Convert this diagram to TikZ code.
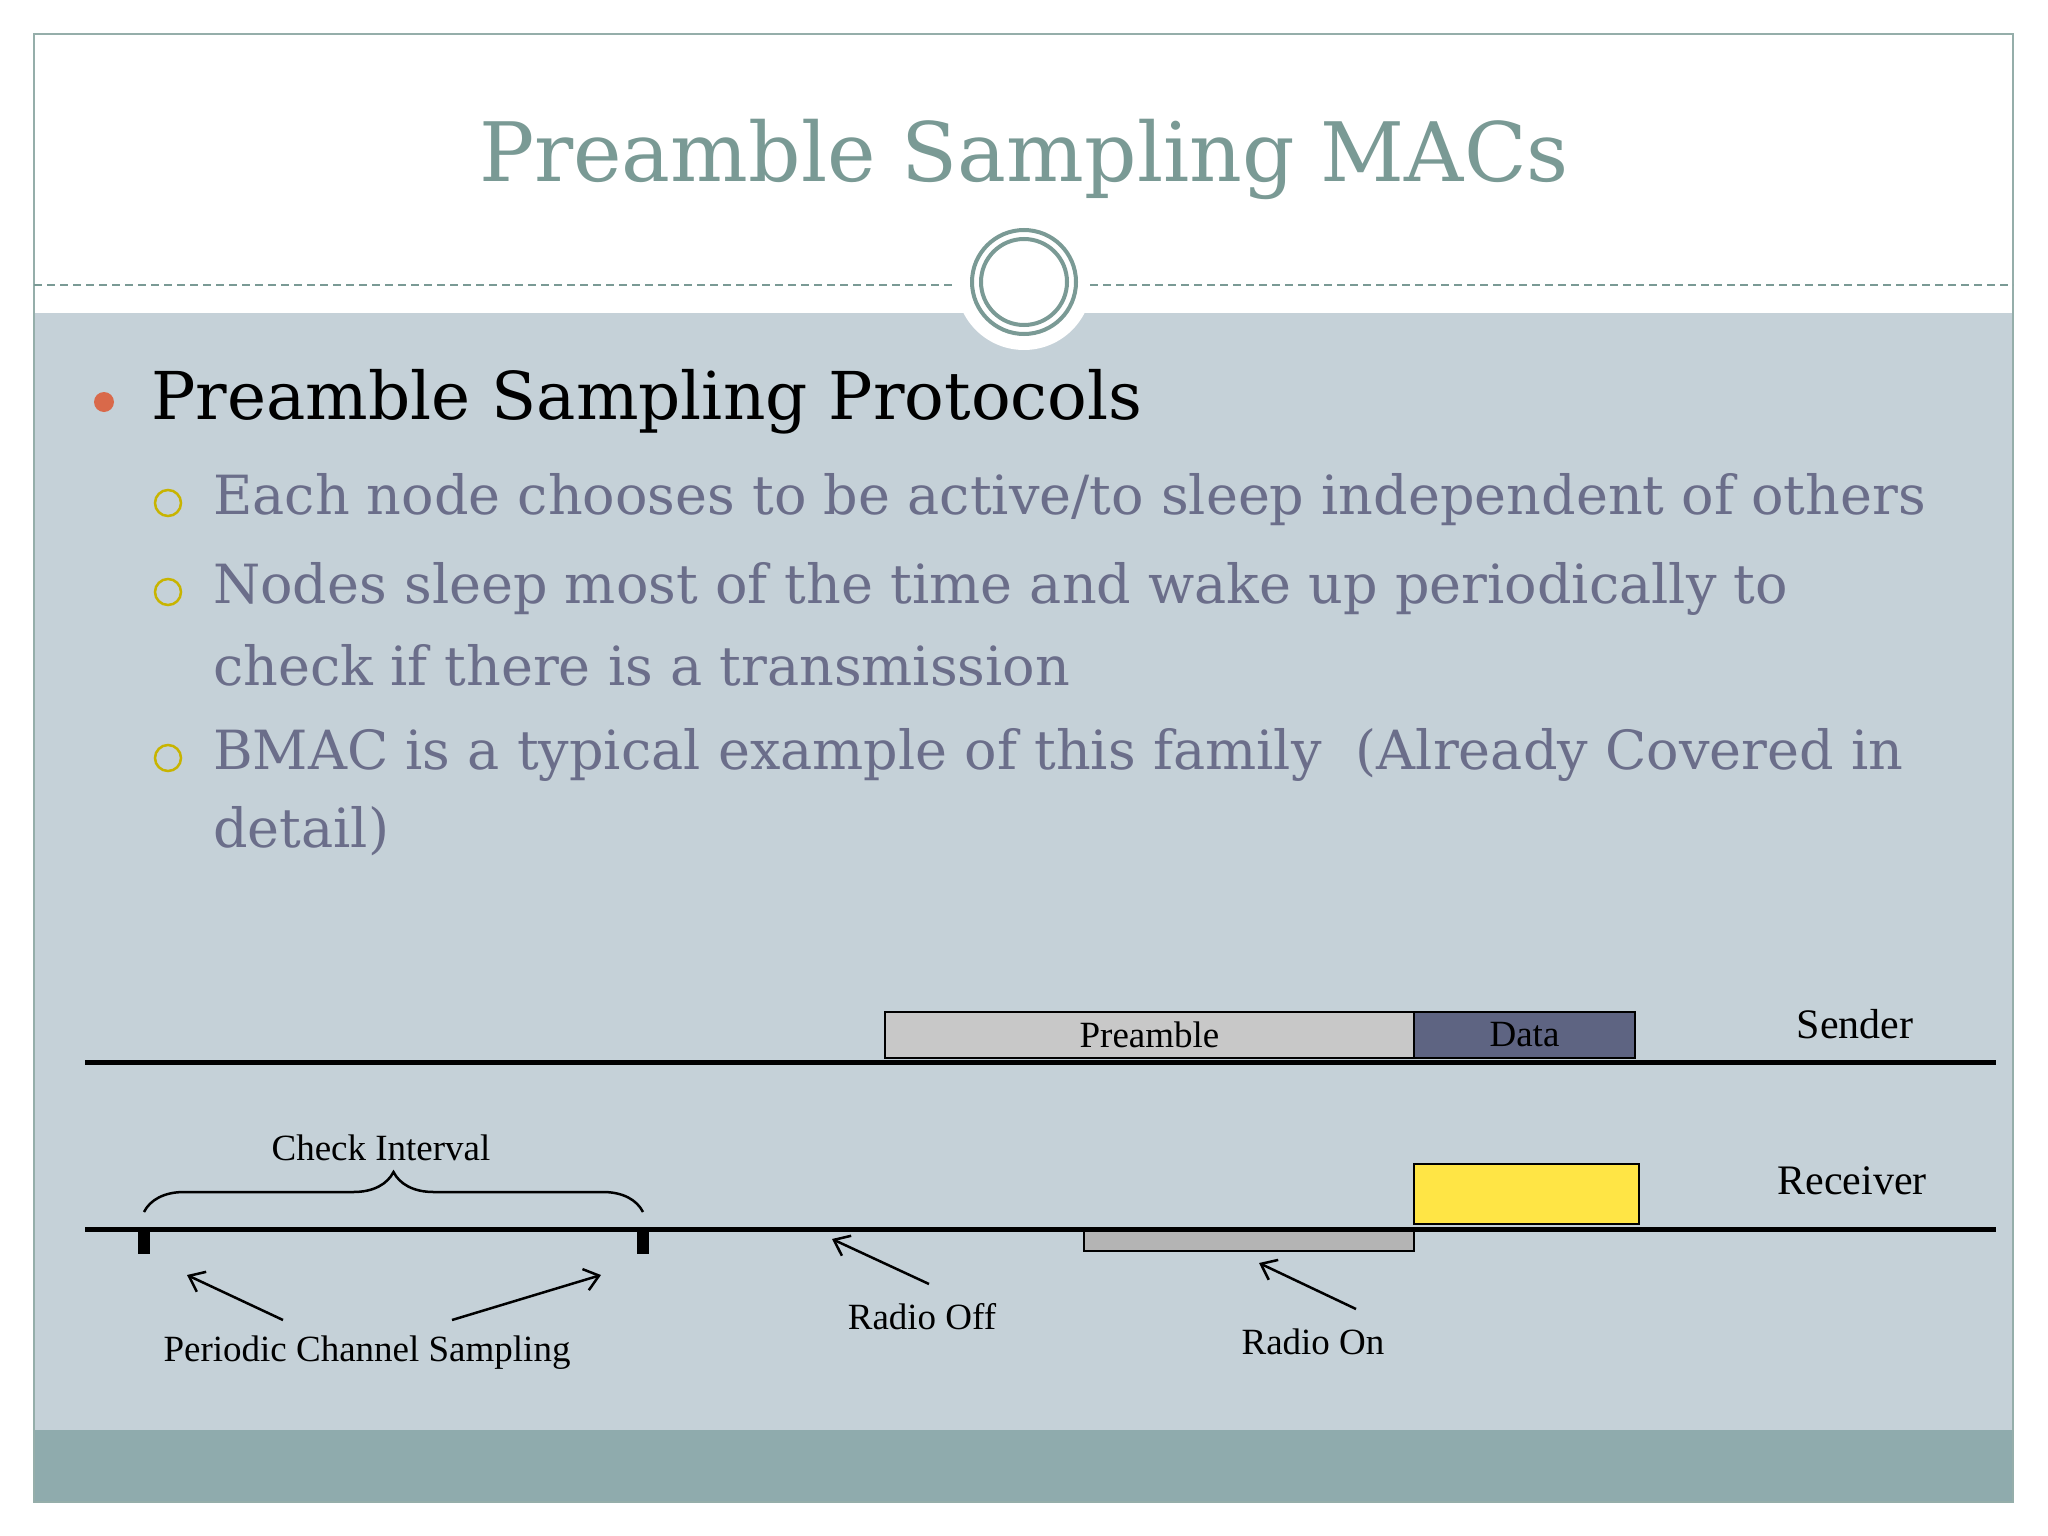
\documentclass[tikz,border=0pt]{standalone}
\usepackage{fontspec}
\setmainfont{DejaVu Serif}
\newfontfamily\lab{Liberation Serif}
\usetikzlibrary{arrows.meta,decorations.pathreplacing}
\definecolor{bg}{HTML}{C5D1D8}
\definecolor{band}{HTML}{8FABAD}
\definecolor{teal}{HTML}{7A9A95}
\definecolor{sub}{HTML}{6B6E8A}
\definecolor{orng}{HTML}{D9694A}
\definecolor{olv}{HTML}{C8B400}
\definecolor{gbox}{HTML}{C8C8C8}
\definecolor{dbox}{HTML}{5E6482}
\definecolor{ylw}{HTML}{FFE545}
\tikzset{
  lbl/.style={font=\lab\fontsize{37}{40}\selectfont,inner sep=0},
  subt/.style={anchor=west,font=\fontsize{54}{58}\selectfont,text=sub,inner sep=0},
  tline/.style={line width=5pt},
  arr/.style={-{Straight Barb[length=14pt,width=22pt]},line width=2.5pt},
  sbul/.style={circle,draw=olv,line width=2.5pt,minimum size=26pt,inner sep=0},
  smark/.style={fill=black,minimum width=12pt,minimum height=24pt,inner sep=0}
}
\begin{document}
\begin{tikzpicture}[x=1pt,y=-1pt]
\useasboundingbox (0,0) rectangle (2048,1536);
\fill[white] (0,0) rectangle (2048,1536);
\fill[bg] (34,313) rectangle (2013,1430);
\fill[band] (34,1430) rectangle (2013,1502);
\draw[teal!80,line width=2pt] (34,34) rectangle (2013,1502);
\fill[white] (1024,282) circle (68);
\draw[teal,dashed,line width=2pt,dash pattern=on 8pt off 5pt] (34,285) -- (953,285);
\draw[teal,dashed,line width=2pt,dash pattern=on 8pt off 5pt] (1090,285) -- (2013,285);
\node[circle,draw=teal,line width=4pt,minimum size=104pt] (oc) at (1024,282) {};
\node[circle,draw=teal,line width=4pt,minimum size=86pt] (ic) at (1024,282) {};
\node[font=\fontsize{82}{88}\selectfont,text=teal] (title) at (1024,159) {Preamble Sampling MACs};
\fill[orng] (104,402) circle (10);
\node[anchor=west,font=\fontsize{66}{70}\selectfont,inner sep=0] (h1) at (151,402) {Preamble Sampling Protocols};
\node[sbul] (b1) at (168,503) {};
\node[subt] (t1) at (213,500) {Each node chooses to be active/to sleep independent of others};
\node[sbul] (b2) at (168,592) {};
\node[subt] (t2) at (213,589) {Nodes sleep most of the time and wake up periodically to};
\node[subt] (t2b) at (213,665) {check if there is a transmission};
\node[sbul] (b3) at (168,758) {};
\node[subt] (t3) at (213,755) {BMAC is a typical example of this family\ \ (Already Covered in};
\node[subt] (t3b) at (213,831) {detail)};
% sender
\coordinate (s0) at (85,1062); \coordinate (s1) at (1996,1062);
\draw[tline] (s0) -- (s1);
\node[draw,fill=gbox,line width=2.5pt,minimum width=529pt,minimum height=46pt,inner sep=0,lbl] (pre) at (1149.5,1035) {Preamble};
\node[draw,fill=dbox,line width=2.5pt,minimum width=221pt,minimum height=46pt,inner sep=0,lbl] (data) at (1524.5,1035) {Data};
\node[lbl,font=\lab\fontsize{42}{46}\selectfont] (snd) at (1855,1024) {Sender};
% receiver
\node[draw,fill=gbox!90!black,line width=2pt,minimum width=330pt,minimum height=22pt,inner sep=0] (on) at (1249,1240) {};
\node[draw,fill=ylw,line width=2.5pt,minimum width=225pt,minimum height=60pt,inner sep=0] (yl) at (1526.5,1194) {};
\coordinate (r0) at (85,1229); \coordinate (r1) at (1996,1229);
\draw[tline] (r0) -- (r1);
\node[lbl,font=\lab\fontsize{42}{46}\selectfont] (rcv) at (1852,1181) {Receiver};
\node[smark] (m1) at (144,1242) {};
\node[smark] (m2) at (643,1242) {};
\draw[decorate,decoration={brace,amplitude=40pt},line width=2.5pt] (144,1212) -- (643,1212);
\node[lbl] (ci) at (381,1148) {Check Interval};
\coordinate (a1s) at (283,1320); \coordinate (a1e) at (187,1275);
\coordinate (a2s) at (452,1320); \coordinate (a2e) at (601,1275);
\draw[arr] (a1s) -- (a1e);
\draw[arr] (a2s) -- (a2e);
\node[lbl] (pcs) at (367,1353) {Periodic Channel Sampling};
\coordinate (a3s) at (929,1284); \coordinate (a3e) at (832,1239);
\draw[arr] (a3s) -- (a3e);
\node[lbl] (roff) at (922,1317) {Radio Off};
\coordinate (a4s) at (1356,1309); \coordinate (a4e) at (1259,1263);
\draw[arr] (a4s) -- (a4e);
\node[lbl] (ron) at (1313,1342) {Radio On};
\end{tikzpicture}
\end{document}
